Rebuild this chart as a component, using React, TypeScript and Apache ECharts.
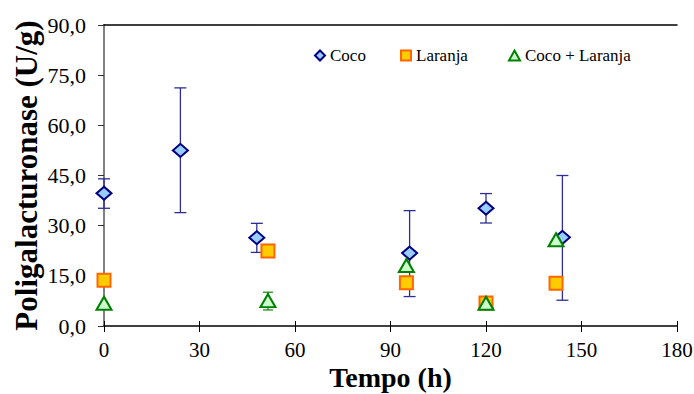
import React, { useEffect, useRef } from "react";
import * as echarts from "echarts";

const cocoX = [0, 24, 48, 96, 120, 144];
const cocoY = [39.7, 52.5, 26.4, 21.8, 35.2, 26.5];
const cocoLow = [35.2, 33.9, 22.0, 8.8, 30.8, 7.7];
const cocoHigh = [44.0, 71.2, 30.7, 34.5, 39.6, 45.0];

const laranjaX = [0, 51.5, 95, 120, 142];
const laranjaY = [13.7, 22.4, 12.9, 6.9, 12.8];

const mixX = [0, 51.5, 95, 120, 142];
const mixY = [6.8, 7.6, 18.1, 6.8, 25.8];
const mixErrX = [51.5];
const mixErrLow = [4.8];
const mixErrHigh = [10.1];

const xTicks = [0, 30, 60, 90, 120, 150, 180];
const yTicks = [0, 15, 30, 45, 60, 75, 90];

const FONT = "Liberation Serif";

function errRender(color: string, half: number) {
  return (params: any, api: any) => {
    const x = api.value(0);
    const lo = api.coord([x, api.value(1)]);
    const hi = api.coord([x, api.value(2)]);
    const style = { stroke: color, lineWidth: 1.3 };
    return {
      type: "group",
      children: [
        { type: "line", shape: { x1: hi[0], y1: hi[1], x2: lo[0], y2: lo[1] }, style },
        { type: "line", shape: { x1: hi[0] - half, y1: hi[1], x2: hi[0] + half, y2: hi[1] }, style },
        { type: "line", shape: { x1: lo[0] - half, y1: lo[1], x2: lo[0] + half, y2: lo[1] }, style },
      ],
    };
  };
}

export default function App() {
  const ref = useRef<HTMLDivElement>(null);
  useEffect(() => {
    if (!ref.current) return;
    const chart = echarts.init(ref.current, null, { renderer: "svg" });
    const xMin = xTicks[0];
    const xMax = xTicks[xTicks.length - 1];
    const yMin = yTicks[0];
    const yMax = yTicks[yTicks.length - 1];
    const legendText = { fontFamily: FONT, fontSize: 17, color: "#000" };
    chart.setOption({
      animation: false,
      backgroundColor: "#fff",
      textStyle: { fontFamily: FONT },
      grid: { left: 104, right: 17, top: 25, bottom: 68, containLabel: false, outerBoundsMode: "none" },
      legend: [
        { data: ["Coco"], left: 314, top: 47, itemWidth: 10, itemHeight: 10, padding: 0, textStyle: legendText, selectedMode: false },
        { data: ["Laranja"], left: 400, top: 47, itemWidth: 10, itemHeight: 10, padding: 0, textStyle: legendText, selectedMode: false },
        { data: ["Coco + Laranja"], left: 508, top: 47, itemWidth: 11, itemHeight: 10, padding: 0, textStyle: legendText, selectedMode: false },
      ],
      xAxis: [
        {
          type: "value",
          min: xMin,
          max: xMax,
          interval: 30,
          position: "bottom",
          name: "Tempo (h)",
          nameLocation: "middle",
          nameGap: 37,
          nameMoveOverlap: false,
          nameTextStyle: { fontFamily: FONT, fontSize: 28, fontWeight: "bold", color: "#000" },
          axisLine: { show: true, lineStyle: { color: "#000", width: 1.5 } },
          axisTick: { show: true, length: 6, lineStyle: { color: "#000", width: 1 } },
          axisLabel: { fontFamily: FONT, fontSize: 21, color: "#000", margin: 13 },
          splitLine: { show: false },
        },
        {
          type: "value",
          min: xMin,
          max: xMax,
          interval: 30,
          position: "bottom",
          axisLine: { show: false },
          axisTick: { show: true, inside: true, length: 5, lineStyle: { color: "#000", width: 1 } },
          axisLabel: { show: false },
          splitLine: { show: false },
        },
        {
          type: "value",
          min: xMin,
          max: xMax,
          position: "top",
          axisLine: { show: true, lineStyle: { color: "#000", width: 1.5 } },
          axisTick: { show: false },
          axisLabel: { show: false },
          splitLine: { show: false },
        },
      ],
      yAxis: [
        {
          type: "value",
          min: yMin,
          max: yMax,
          interval: 15,
          position: "left",
          name: "Poligalacturonase (U/g)",
          nameLocation: "middle",
          nameGap: 62,
          nameMoveOverlap: false,
          nameTextStyle: { fontFamily: FONT, fontSize: 31, fontWeight: "bold", color: "#000" },
          axisLine: { show: true, lineStyle: { color: "#808080", width: 2 } },
          axisTick: { show: true, length: 6, lineStyle: { color: "#333", width: 1 } },
          axisLabel: {
            fontFamily: FONT,
            fontSize: 22,
            color: "#000",
            margin: 18,
            formatter: (v: number) => v.toFixed(1).replace(".", ","),
          },
          splitLine: { show: false },
        },
        {
          type: "value",
          min: yMin,
          max: yMax,
          position: "right",
          axisLine: { show: true, lineStyle: { color: "#808080", width: 2 } },
          axisTick: { show: false },
          axisLabel: { show: false },
          splitLine: { show: false },
        },
      ],
      series: [
        {
          name: "CocoErr",
          type: "custom",
          xAxisIndex: 0,
          yAxisIndex: 0,
          z: 1,
          renderItem: errRender("#2e2e96", 6),
          encode: { x: 0, y: [1, 2] },
          data: cocoX.map((x, i) => [x, cocoLow[i], cocoHigh[i]]),
        },
        {
          name: "MixErr",
          type: "custom",
          xAxisIndex: 0,
          yAxisIndex: 0,
          z: 1,
          renderItem: errRender("#1f8f1f", 5),
          encode: { x: 0, y: [1, 2] },
          data: mixErrX.map((x, i) => [x, mixErrLow[i], mixErrHigh[i]]),
        },
        {
          name: "Coco",
          type: "scatter",
          z: 3,
          symbol: "diamond",
          symbolSize: [15, 13],
          itemStyle: { color: "#99CCFF", borderColor: "#000080", borderWidth: 2, opacity: 1 },
          data: cocoX.map((x, i) => [x, cocoY[i]]),
        },
        {
          name: "Laranja",
          type: "scatter",
          z: 3,
          symbol: "rect",
          symbolSize: 13,
          itemStyle: { color: "#FFCC00", borderColor: "#FF6600", borderWidth: 2, opacity: 1 },
          data: laranjaX.map((x, i) => [x, laranjaY[i]]),
        },
        {
          name: "Coco + Laranja",
          type: "scatter",
          z: 4,
          symbol: "triangle",
          symbolSize: [15, 13],
          itemStyle: { color: "#CCFFCC", borderColor: "#008000", borderWidth: 2, opacity: 1 },
          data: mixX.map((x, i) => [x, mixY[i]]),
        },
      ],
    });
    return () => chart.dispose();
  }, []);
  return <div ref={ref} style={{ width: 694, height: 394, position: "absolute", left: 0, top: 0 }} />;
}
